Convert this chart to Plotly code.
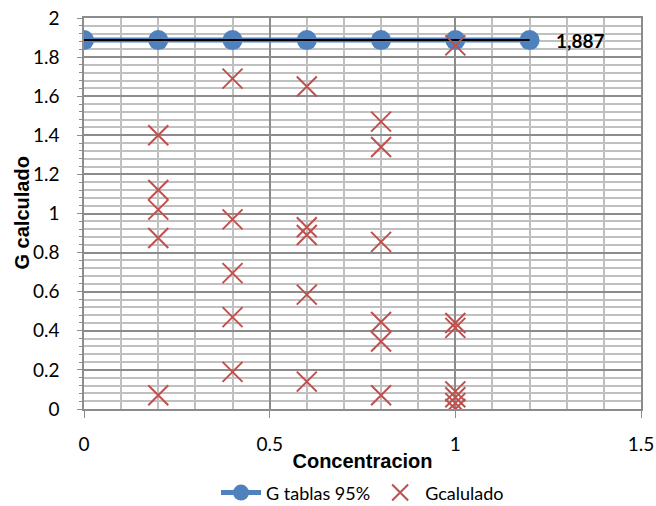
import plotly.graph_objects as go

# G tablas 95% series
g_tab_x = [0, 0.2, 0.4, 0.6, 0.8, 1.0, 1.2]
g_tab_y = [1.887, 1.887, 1.887, 1.887, 1.887, 1.887, 1.887]
label_text = "1,887"

# Gcalulado series
g_calc_x = [0.2, 0.2, 0.2, 0.2, 0.2,
            0.4, 0.4, 0.4, 0.4, 0.4,
            0.6, 0.6, 0.6, 0.6, 0.6,
            0.8, 0.8, 0.8, 0.8, 0.8, 0.8,
            1.0, 1.0, 1.0, 1.0, 1.0, 1.0, 1.0]
g_calc_y = [1.40, 1.12, 1.02, 0.875, 0.07,
            1.69, 0.97, 0.695, 0.47, 0.19,
            1.65, 0.93, 0.89, 0.585, 0.14,
            1.47, 1.34, 0.855, 0.445, 0.345, 0.07,
            1.86, 0.44, 0.415, 0.09, 0.06, 0.03, 0.0]

fig = go.Figure()
fig.add_trace(go.Scatter(
    x=g_tab_x, y=g_tab_y, mode="lines+markers", name="G tablas 95%",
    line=dict(color="#4f81bd", width=5),
    marker=dict(color="#4f81bd", size=20, symbol="circle"),
))
fig.add_trace(go.Scatter(
    x=g_tab_x, y=g_tab_y, mode="lines", showlegend=False,
    line=dict(color="#000000", width=2), hoverinfo="skip",
))
fig.add_trace(go.Scatter(
    x=g_calc_x, y=g_calc_y, mode="markers", name="Gcalulado",
    marker=dict(symbol="x-thin", size=20, color="#c0504d",
                line=dict(color="#c0504d", width=2)),
))

fig.add_annotation(x=g_tab_x[-1], y=g_tab_y[-1], text="<b>" + label_text + "</b>",
                   showarrow=False, xanchor="left", yanchor="middle", xshift=24,
                   font=dict(family="Lato", size=19, color="#000"))
# y-axis title placed as rotated text
fig.add_annotation(xref="paper", yref="paper", x=0, y=0.5, xshift=-63,
                   text="<b>G calculado</b>", textangle=-90, showarrow=False,
                   xanchor="center", yanchor="middle",
                   font=dict(family="Liberation Sans", size=20, color="#000"))

fig.update_layout(
    width=656, height=506,
    margin=dict(l=84, r=15, t=18, b=97, autoexpand=False),
    paper_bgcolor="white", plot_bgcolor="white",
    font=dict(family="Lato", size=19, color="#000"),
    showlegend=True,
    legend=dict(orientation="h", x=0.5, xanchor="center",
                yref="container", y=0.026, yanchor="middle",
                font=dict(family="Lato", size=18), itemwidth=40,
                bgcolor="rgba(0,0,0,0)"),
)
fig.update_xaxes(
    range=[0, 1.5], dtick=0.5, tick0=0, automargin=False,
    showgrid=True, gridcolor="#8c8c8c", gridwidth=1.5,
    minor=dict(dtick=0.1, showgrid=True, gridcolor="#c0c0c0", gridwidth=1.5),
    showline=True, linecolor="#8c8c8c", linewidth=1.5, mirror=True,
    ticks="outside", ticklen=7, tickcolor="#8c8c8c", ticklabelstandoff=10,
    zeroline=False,
    title=dict(text="<b>Concentracion</b>", font=dict(family="Liberation Sans", size=20), standoff=0),
)
fig.update_yaxes(
    range=[0, 2], dtick=0.2, tick0=0, automargin=False,
    showgrid=True, gridcolor="#8c8c8c", gridwidth=1.5,
    minor=dict(dtick=0.04, showgrid=True, gridcolor="#c0c0c0", gridwidth=1.5,
               ticks="outside", ticklen=3, tickcolor="#8c8c8c"),
    showline=True, linecolor="#8c8c8c", linewidth=1.5, mirror=True,
    ticks="outside", ticklen=5, tickcolor="#8c8c8c", ticklabelstandoff=14,
    zeroline=False,
)

fig.write_html("out.html")
